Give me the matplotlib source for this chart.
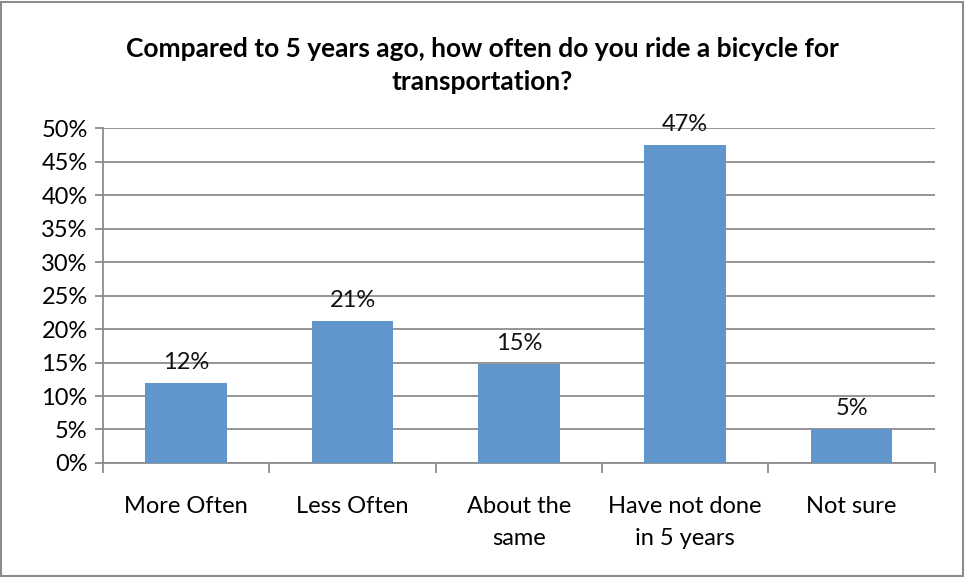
import matplotlib.pyplot as plt
import numpy as np
from matplotlib.patches import Rectangle

categories = ["More Often", "Less Often", "About the\nsame", "Have not done\nin 5 years", "Not sure"]
values = [11.9, 21.2, 14.8, 47.5, 5.1]
labels = ["12%", "21%", "15%", "47%", "5%"]
yticks = [0, 5, 10, 15, 20, 25, 30, 35, 40, 45, 50]
ytick_labels = [f"{t}%" for t in yticks]
title = "Compared to 5 years ago, how often do you ride a bicycle for\ntransportation?"

plt.rcParams['font.family'] = ['Lato', 'DejaVu Sans']

fig = plt.figure(figsize=(9.65, 5.77), dpi=100)
fig.patches.append(Rectangle((0.001, 0.001), 0.997, 0.995, transform=fig.transFigure,
                             fill=False, edgecolor='#8c8c8c', linewidth=1.5))
ax = fig.add_axes([0.1067, 0.1976, 0.862, 0.5804])

x = np.arange(len(categories))
ax.bar(x, values, width=0.49, color='#6096CB', zorder=3)
for xi, v, lab in zip(x, values, labels):
    ax.text(xi, v + 1.5, lab, ha='center', va='bottom', fontsize=17, color='#111111')

ax.set_xlim(-0.5, len(categories) - 0.5)
ax.set_ylim(0, 50)
ax.set_yticks(yticks)
ax.set_yticklabels(ytick_labels, fontsize=17)
ax.yaxis.grid(True, color='#8c8c8c', linewidth=1.3, zorder=0)
ax.set_axisbelow(True)

ax.set_xticks(np.arange(-0.5, len(categories)), minor=False)
ax.set_xticklabels([])
ax.set_xticks(x, minor=True)
ax.set_xticklabels(categories, minor=True, fontsize=17, linespacing=1.65)
ax.tick_params(axis='x', which='minor', length=0, pad=24)
ax.tick_params(axis='x', which='major', length=7, color='#8c8c8c', width=1.3)
ax.tick_params(axis='y', length=6, color='#8c8c8c', width=1.3, pad=5)
for lab in ax.get_xticklabels(minor=True):
    lab.set_verticalalignment('top')

for s in ['top', 'right']:
    ax.spines[s].set_visible(False)
for s in ['left', 'bottom']:
    ax.spines[s].set_color('#8c8c8c')
    ax.spines[s].set_linewidth(1.3)

fig.text(0.5, 0.887, title, ha='center', va='center', fontsize=19, fontweight='bold',
         linespacing=1.45)

fig.savefig('out.png', dpi=100)
